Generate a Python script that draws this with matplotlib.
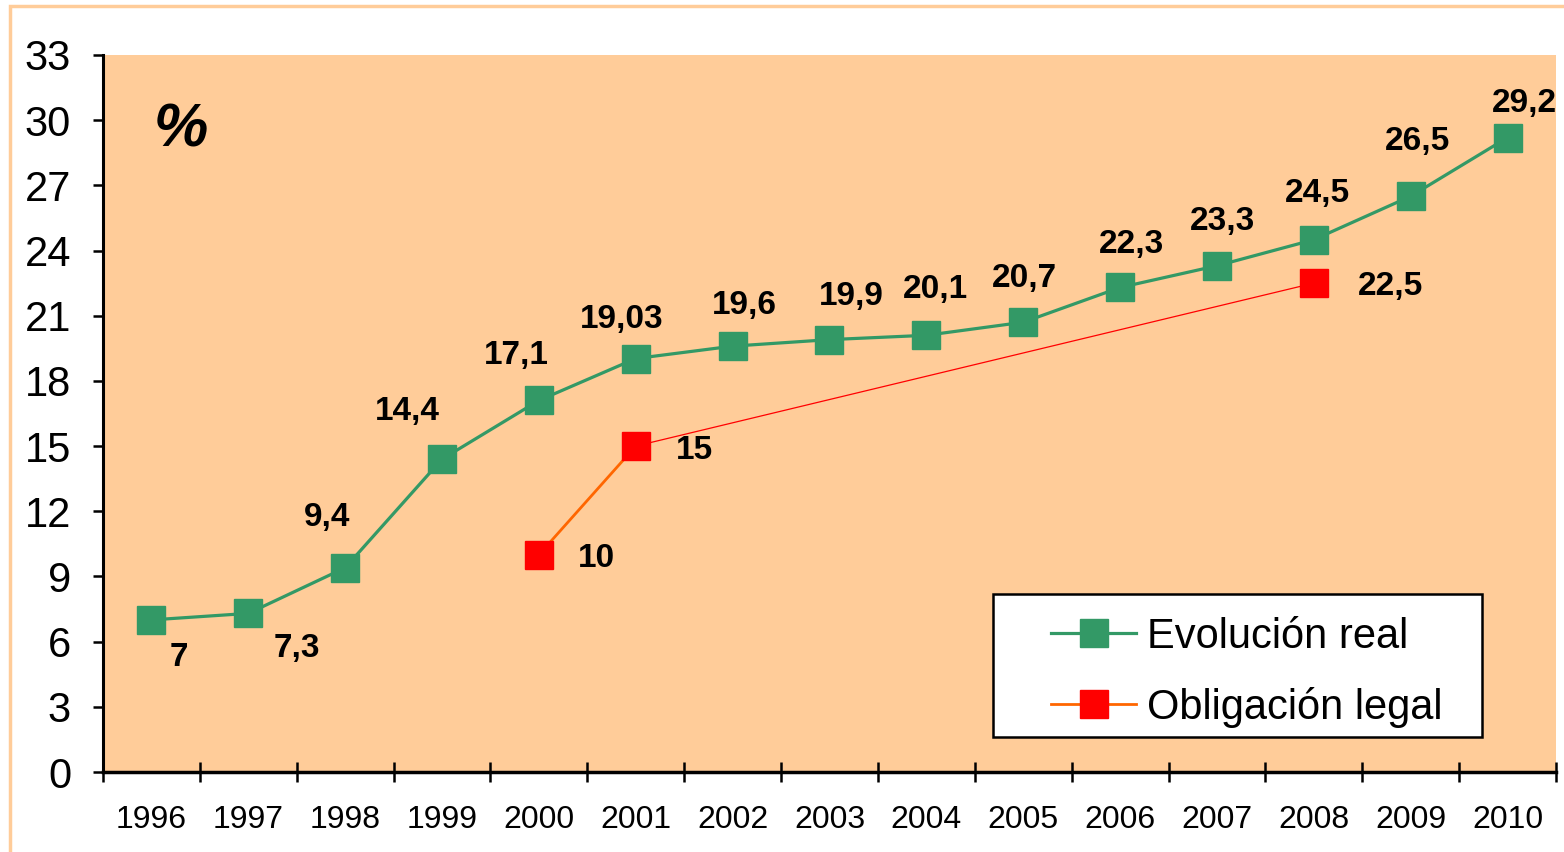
import matplotlib
matplotlib.use("Agg")
import matplotlib.pyplot as plt
from matplotlib.patches import Rectangle
import numpy as np

plt.rcParams['font.family'] = ['Liberation Sans', 'DejaVu Sans']

years = ['1996', '1997', '1998', '1999', '2000', '2001', '2002', '2003',
         '2004', '2005', '2006', '2007', '2008', '2009', '2010']
real_values = [7, 7.3, 9.4, 14.4, 17.1, 19.03, 19.6, 19.9, 20.1, 20.7,
               22.3, 23.3, 24.5, 26.5, 29.2]
real_labels = ['7', '7,3', '9,4', '14,4', '17,1', '19,03', '19,6', '19,9',
               '20,1', '20,7', '22,3', '23,3', '24,5', '26,5', '29,2']
legal_years = ['2000', '2001', '2008']
legal_values = [10, 15, 22.5]
legal_labels = ['10', '15', '22,5']
yticks = [0, 3, 6, 9, 12, 15, 18, 21, 24, 27, 30, 33]

GREEN = '#339966'
RED = '#FF0000'
ORANGE = '#FF6600'
BG = '#FFCC99'
W, H = 1564, 852

fig = plt.figure(figsize=(W/100, H/100), dpi=100)
ax = fig.add_axes([103/W, 80/H, 1453/W, 717/H])
ax.set_facecolor(BG)

# figure border
fig.patches.append(Rectangle((10/W, -0.05), 1.2, (H-6)/H + 0.05,
                             transform=fig.transFigure, fill=False,
                             edgecolor=BG, linewidth=2.5, zorder=0))

x = np.arange(len(years))
lx = np.array([years.index(y) for y in legal_years])

MS = 20
ax.plot(x, real_values, color=GREEN, lw=2.3, marker='s', ms=MS,
        mfc=GREEN, mec=GREEN, zorder=3, label='Evolución real')
ax.plot(lx[:2], legal_values[:2], color=ORANGE, lw=2.0, zorder=2)
ax.plot(lx[1:], legal_values[1:], color=RED, lw=0.9, zorder=2)
ax.plot(lx, legal_values, ls='none', marker='s', ms=MS, mfc=RED, mec=RED,
        zorder=4)
# legend proxy
ax.plot([], [], color=ORANGE, lw=2.0, marker='s', ms=MS, mfc=RED, mec=RED,
        label='Obligación legal')

# label offsets in pixels
real_off = [(27, -38), (49, -35), (-18, 50), (-35, 48), (-23, 45), (-14, 39),
            (12, 41), (22, 43), (9, 46), (1, 44), (11, 43), (6, 44),
            (4, 46), (7, 55), (17, 34)]
legal_off = [(58, -4), (59, -4), (77, -3)]

for xi, v, lab, (dx, dy) in zip(x, real_values, real_labels, real_off):
    ax.annotate(lab, (xi, v), xytext=(dx/1.389, dy/1.389),
                textcoords='offset points', ha='center', va='center',
                fontsize=24, fontweight='bold', zorder=5)
for xi, v, lab, (dx, dy) in zip(lx, legal_values, legal_labels, legal_off):
    ax.annotate(lab, (xi, v), xytext=(dx/1.389, dy/1.389),
                textcoords='offset points', ha='center', va='center',
                fontsize=24, fontweight='bold', zorder=5)

fig.text(181/W, 1 - 131/H, '%', fontsize=44, fontweight='bold',
         fontstyle='italic', ha='center', va='center')

ax.set_xlim(-0.5, len(years) - 0.5)
ax.set_ylim(0, 33)
ax.set_yticks(yticks)
ax.set_yticklabels([str(t) for t in yticks], fontsize=30)
ax.set_xticks(x)
ax.set_xticklabels(years, fontsize=23)
ax.set_xticks(np.arange(-0.5, len(years), 1), minor=True)

ax.tick_params(axis='x', which='major', length=0, pad=24)
ax.tick_params(axis='x', which='minor', direction='inout', length=15,
               width=1.8)
ax.tick_params(axis='y', which='major', direction='out', length=7,
               width=1.8, pad=16)

for s in ['top', 'right']:
    ax.spines[s].set_visible(False)
ax.spines['left'].set_linewidth(2.2)
ax.spines['bottom'].set_linewidth(2.5)

# legend box
ax.add_patch(Rectangle((993/W, 1 - 737/H), (1482-993)/W, (737-594)/H,
                       transform=fig.transFigure, facecolor='white',
                       edgecolor='black', linewidth=1.8, zorder=8,
                       clip_on=False))
leg = ax.legend(loc='upper left', bbox_to_anchor=(1051/W, 1 - 617/H),
                bbox_transform=fig.transFigure,
                fontsize=30, frameon=False, handlelength=2.05,
                handletextpad=0.25, labelspacing=0.72, borderpad=0,
                borderaxespad=0)
leg.set_zorder(9)

fig.savefig('out.png', dpi=100)
